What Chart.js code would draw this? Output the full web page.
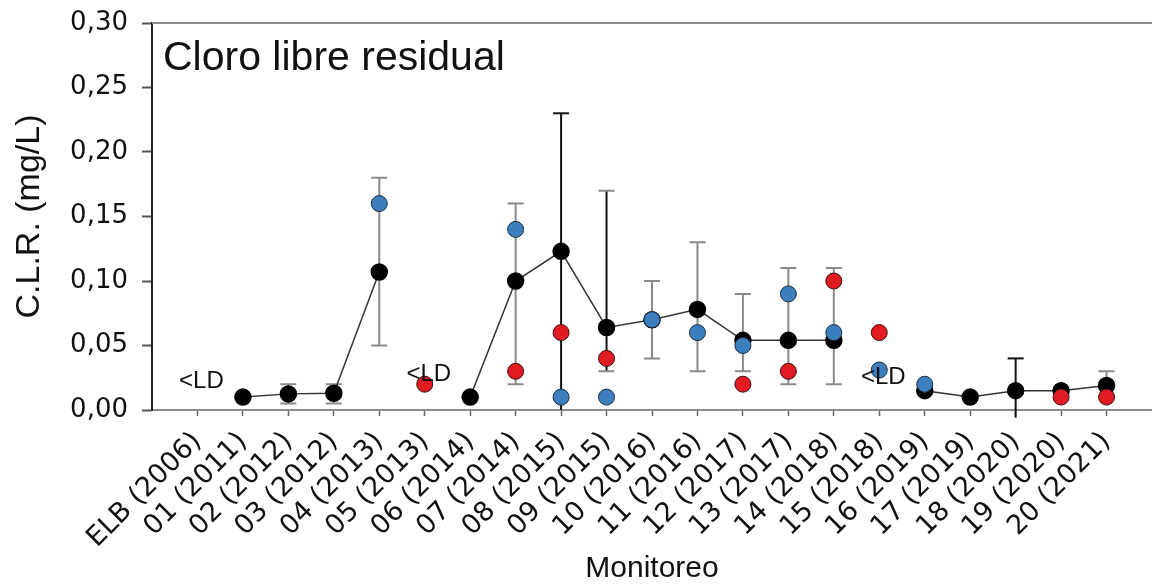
<!DOCTYPE html>
<html>
<head>
<meta charset="utf-8">
<script src="https://cdn.jsdelivr.net/npm/chart.js@4"></script>
<style>
  body { margin: 0; background: #fff; }
</style>
</head>
<body>
<canvas id="grafico" width="1152" height="584"></canvas>
<script>
// categorias de monitoreo
var monitoreos = ["ELB (2006)", "01 (2011)", "02 (2012)", "03 (2012)", "04 (2013)", "05 (2013)", "06 (2014)",
  "07 (2014)", "08 (2015)", "09 (2015)", "10 (2016)", "11 (2016)", "12 (2017)", "13 (2017)", "14 (2018)",
  "15 (2018)", "16 (2019)", "17 (2019)", "18 (2020)", "19 (2020)", "20 (2021)"];

// promedio (negro)
var promedio = [null, 0.010, 0.0125, 0.013, 0.107, null, 0.010, 0.100, 0.123, 0.064, 0.070, 0.078, 0.054, 0.054, 0.054,
  null, 0.015, 0.010, 0.015, 0.015, 0.019];
// puntos azules
var azules = [null, null, null, null, 0.160, null, null, 0.140, 0.010, 0.010, 0.070, 0.060, 0.050, 0.090, 0.060,
  0.031, 0.020, null, null, null, null];
// puntos rojos
var rojos = [null, null, null, null, null, 0.020, null, 0.030, 0.060, 0.040, null, null, 0.020, 0.030, 0.100,
  0.060, null, null, null, 0.010, 0.010];

// barras de error (max / min)
var errMax = [null, null, 0.020, 0.020, 0.180, null, null, 0.160, 0.230, 0.170, 0.100, 0.130, 0.090, 0.110, 0.110,
  null, null, null, 0.040, null, 0.030];
var errMin = [null, null, 0.005, 0.005, 0.050, null, null, 0.020, 0.000, 0.030, 0.040, 0.030, 0.030, 0.020, 0.020,
  null, null, null, -0.006, null, 0.010];
var errNegro = [false, false, false, false, false, false, false, false, true, true, false, false, false, false, false,
  false, false, false, true, false, false];

// etiquetas "<LD"
var ldIndice = [0, 5, 15];
var ldValor = [0.022, 0.028, 0.025];

var yTicks = [0, 0.05, 0.10, 0.15, 0.20, 0.25, 0.30];

function toXY(arr) {
  var out = [];
  for (var i = 0; i < arr.length; i++) {
    out.push({ x: i, y: arr[i] });
  }
  return out;
}

var errorBarsPlugin = {
  id: 'errorBars',
  beforeDatasetsDraw: function(chart) {
    var ctx = chart.ctx;
    var xs = chart.scales.x;
    var ys = chart.scales.y;
    ctx.save();
    for (var i = 0; i < errMax.length; i++) {
      if (errMax[i] == null) continue;
      var px = xs.getPixelForValue(i);
      var top = ys.getPixelForValue(errMax[i]);
      var bot = ys.getPixelForValue(errMin[i]);
      ctx.strokeStyle = errNegro[i] ? '#111' : '#8a8a8a';
      ctx.lineWidth = 2;
      ctx.beginPath();
      ctx.moveTo(px, top);
      ctx.lineTo(px, bot);
      ctx.stroke();
      // las tapas del 09 son grises
      if (i == 9) ctx.strokeStyle = '#8a8a8a';
      ctx.beginPath();
      ctx.moveTo(px - 8, top);
      ctx.lineTo(px + 8, top);
      if (errMin[i] > 0) {
        ctx.moveTo(px - 8, bot);
        ctx.lineTo(px + 8, bot);
      }
      ctx.stroke();
    }
    ctx.restore();
  },
  afterDatasetsDraw: function(chart) {
    var ctx = chart.ctx;
    var xs = chart.scales.x;
    var ys = chart.scales.y;
    var area = chart.chartArea;
    ctx.save();
    // borde superior
    ctx.strokeStyle = '#8a8a8a';
    ctx.lineWidth = 2;
    ctx.beginPath();
    ctx.moveTo(area.left, area.top);
    ctx.lineTo(area.right, area.top);
    ctx.stroke();
    // titulo dentro del grafico
    ctx.fillStyle = '#111';
    ctx.font = '41px "Liberation Sans", Arial, sans-serif';
    ctx.textBaseline = 'alphabetic';
    ctx.textAlign = 'left';
    ctx.fillText('Cloro libre residual', area.left + 11, area.top + 47);
    // <LD
    ctx.font = '24px "Liberation Sans", Arial, sans-serif';
    ctx.textAlign = 'center';
    ctx.textBaseline = 'middle';
    for (var k = 0; k < ldIndice.length; k++) {
      ctx.fillText('<LD', xs.getPixelForValue(ldIndice[k]) + 4, ys.getPixelForValue(ldValor[k]));
    }
    ctx.restore();
  }
};

var ctx = document.getElementById('grafico').getContext('2d');
var grafico = new Chart(ctx, {
  type: 'line',
  data: {
    datasets: [
      {
        label: 'Rojo',
        data: toXY(rojos),
        showLine: false,
        pointRadius: 8,
        pointBackgroundColor: '#e01b22',
        pointBorderColor: '#3a1010',
        pointBorderWidth: 1,
        order: 1
      },
      {
        label: 'Azul',
        data: toXY(azules),
        showLine: false,
        pointRadius: 8,
        pointBackgroundColor: '#3c7fbf',
        pointBorderColor: '#1c2c3c',
        pointBorderWidth: 1,
        order: 2
      },
      {
        label: 'Promedio',
        data: toXY(promedio),
        borderColor: '#333',
        borderWidth: 1.5,
        spanGaps: false,
        pointRadius: 8,
        pointBackgroundColor: '#000',
        pointBorderColor: '#000',
        order: 3
      }
    ]
  },
  options: {
    responsive: false,
    animation: false,
    layout: { autoPadding: false, padding: { top: 23, right: 0, left: 0, bottom: 0 } },
    plugins: {
      legend: { display: false },
      tooltip: { enabled: false }
    },
    scales: {
      x: {
        type: 'linear',
        min: -1,
        max: 21,
        afterBuildTicks: function(scale) {
          scale.ticks = monitoreos.map(function(m, i) { return { value: i }; });
        },
        afterFit: function(scale) {
          scale.height = 174;
          scale.paddingRight = 0;
        },
        ticks: {
          autoSkip: false,
          minRotation: 45,
          maxRotation: 45,
          padding: 10,
          color: '#111',
          font: { family: '"DejaVu Sans", sans-serif', size: 27 },
          callback: function(value) { return monitoreos[value]; }
        },
        grid: { drawOnChartArea: false, tickLength: 6, tickColor: '#666', tickWidth: 1.5 },
        border: { color: '#8a8a8a', width: 2 },
        title: {
          display: true,
          text: 'Monitoreo',
          color: '#111',
          font: { family: '"Liberation Sans", Arial, sans-serif', size: 30, lineHeight: 1 },
          padding: { top: 0, bottom: 0 }
        }
      },
      y: {
        min: 0,
        max: 0.30,
        afterBuildTicks: function(scale) {
          scale.ticks = yTicks.map(function(v) { return { value: v }; });
        },
        afterFit: function(scale) {
          scale.width = 152;
          scale.paddingTop = 0;
        },
        ticks: {
          padding: 14,
          color: '#111',
          font: { family: '"DejaVu Sans", sans-serif', size: 26 },
          callback: function(value) { return value.toFixed(2).replace('.', ','); }
        },
        grid: { drawOnChartArea: false, tickLength: 10, tickColor: '#555', tickWidth: 2 },
        border: { color: '#222', width: 2 },
        title: {
          display: true,
          text: 'C.L.R. (mg/L)',
          color: '#111',
          font: { family: '"Liberation Sans", Arial, sans-serif', size: 34 },
          padding: { top: 9, bottom: 0 }
        }
      }
    }
  },
  plugins: [errorBarsPlugin]
});
</script>
</body>
</html>
